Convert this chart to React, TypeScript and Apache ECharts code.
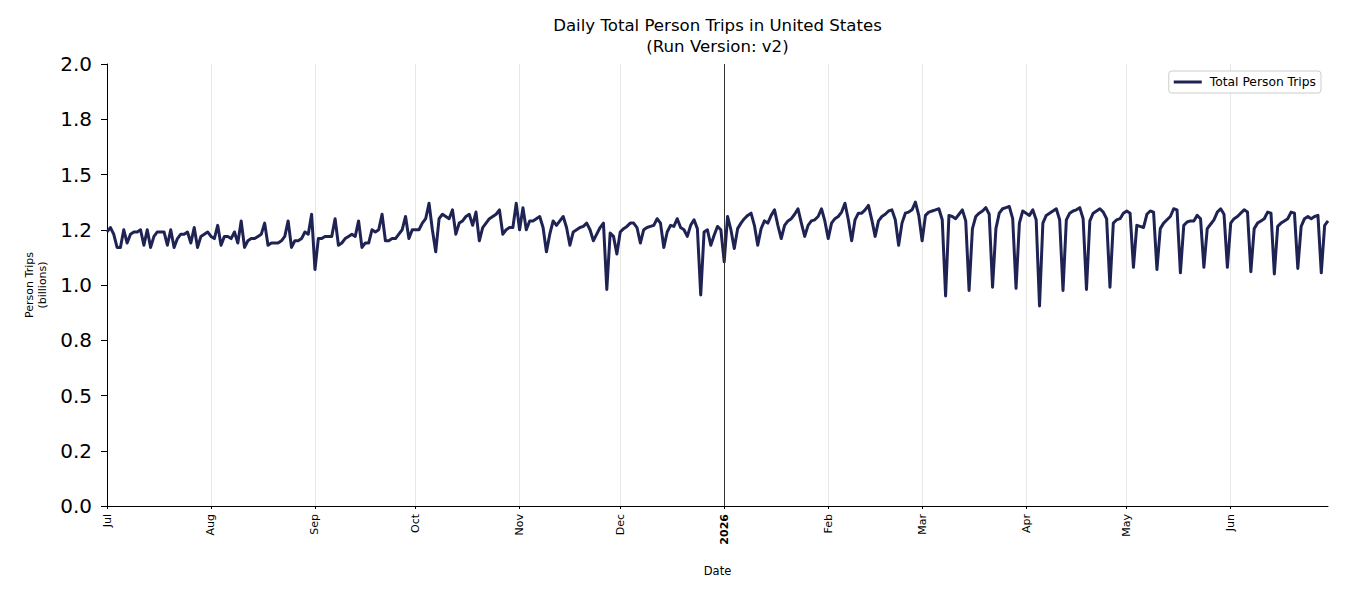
import React, { useEffect, useRef } from 'react';
import * as echarts from 'echarts';

// Daily total person trips (billions), 1 Jul 2025 – 30 Jun 2026
const jul2025 = [1.24, 1.26, 1.23, 1.17, 1.17, 1.25, 1.19, 1.23, 1.24, 1.24, 1.25, 1.18, 1.25, 1.17, 1.22, 1.24, 1.24, 1.24, 1.18, 1.25, 1.17, 1.21, 1.23, 1.23, 1.24, 1.19, 1.26, 1.17, 1.22, 1.23, 1.24];
const aug2025 = [1.22, 1.21, 1.27, 1.18, 1.22, 1.22, 1.21, 1.24, 1.19, 1.29, 1.17, 1.20, 1.21, 1.21, 1.22, 1.23, 1.28, 1.18, 1.19, 1.19, 1.19, 1.20, 1.22, 1.29, 1.17, 1.20, 1.20, 1.21, 1.24, 1.23, 1.32];
const sep2025 = [1.07, 1.21, 1.21, 1.22, 1.22, 1.22, 1.30, 1.18, 1.19, 1.21, 1.22, 1.23, 1.22, 1.29, 1.17, 1.19, 1.19, 1.25, 1.24, 1.25, 1.32, 1.20, 1.20, 1.21, 1.21, 1.23, 1.25, 1.31, 1.21, 1.25];
const oct2025 = [1.25, 1.25, 1.28, 1.30, 1.37, 1.25, 1.15, 1.30, 1.32, 1.31, 1.30, 1.34, 1.23, 1.28, 1.29, 1.31, 1.32, 1.27, 1.33, 1.20, 1.26, 1.28, 1.30, 1.31, 1.32, 1.34, 1.23, 1.25, 1.26, 1.26, 1.37];
const nov2025 = [1.25, 1.35, 1.25, 1.29, 1.29, 1.30, 1.31, 1.26, 1.15, 1.23, 1.29, 1.27, 1.29, 1.31, 1.26, 1.18, 1.24, 1.25, 1.26, 1.265, 1.28, 1.25, 1.20, 1.23, 1.26, 1.28, 0.98, 1.235, 1.22, 1.14];
const dec2025 = [1.24, 1.255, 1.265, 1.28, 1.28, 1.26, 1.19, 1.25, 1.26, 1.265, 1.27, 1.30, 1.28, 1.17, 1.24, 1.27, 1.265, 1.30, 1.26, 1.25, 1.22, 1.27, 1.295, 1.255, 0.955, 1.24, 1.25, 1.18, 1.225, 1.265, 1.25];
const jan2026 = [1.105, 1.31, 1.25, 1.165, 1.255, 1.28, 1.30, 1.315, 1.325, 1.27, 1.18, 1.255, 1.29, 1.28, 1.315, 1.34, 1.27, 1.21, 1.27, 1.29, 1.30, 1.32, 1.345, 1.28, 1.22, 1.27, 1.29, 1.295, 1.31, 1.345, 1.29];
const feb2026 = [1.21, 1.28, 1.30, 1.31, 1.33, 1.37, 1.295, 1.20, 1.295, 1.325, 1.325, 1.34, 1.36, 1.295, 1.22, 1.29, 1.31, 1.32, 1.335, 1.34, 1.295, 1.18, 1.28, 1.325, 1.33, 1.34, 1.375, 1.315];
const mar2026 = [1.20, 1.315, 1.33, 1.335, 1.34, 1.345, 1.295, 0.95, 1.315, 1.31, 1.30, 1.32, 1.34, 1.29, 0.975, 1.255, 1.31, 1.325, 1.335, 1.35, 1.32, 0.99, 1.255, 1.325, 1.345, 1.35, 1.355, 1.30, 0.985, 1.28, 1.335];
const apr2026 = [1.325, 1.315, 1.34, 1.295, 0.905, 1.28, 1.315, 1.325, 1.335, 1.345, 1.295, 0.975, 1.295, 1.325, 1.335, 1.34, 1.35, 1.30, 0.98, 1.29, 1.325, 1.335, 1.345, 1.33, 1.30, 0.99, 1.28, 1.295, 1.30, 1.325];
const may2026 = [1.335, 1.325, 1.08, 1.27, 1.265, 1.26, 1.32, 1.335, 1.33, 1.07, 1.255, 1.28, 1.295, 1.31, 1.345, 1.34, 1.055, 1.27, 1.285, 1.29, 1.29, 1.315, 1.30, 1.08, 1.255, 1.275, 1.295, 1.33, 1.345, 1.32, 1.08];
const jun2026 = [1.28, 1.30, 1.31, 1.325, 1.34, 1.33, 1.06, 1.255, 1.28, 1.29, 1.30, 1.33, 1.325, 1.05, 1.265, 1.28, 1.29, 1.30, 1.33, 1.325, 1.075, 1.265, 1.30, 1.31, 1.30, 1.31, 1.315, 1.055, 1.27, 1.29];

const tripValues = [
  ...jul2025, ...aug2025, ...sep2025, ...oct2025, ...nov2025, ...dec2025,
  ...jan2026, ...feb2026, ...mar2026, ...apr2026, ...may2026, ...jun2026,
];

const firstDay = Date.UTC(2025, 6, 1);
const dayMs = 86400000;
const pad = (n: number) => (n < 10 ? '0' + n : String(n));
const dates = tripValues.map((_, i) => {
  const d = new Date(firstDay + i * dayMs);
  return `${d.getUTCFullYear()}-${pad(d.getUTCMonth() + 1)}-${pad(d.getUTCDate())}`;
});

const monthNames = ['Jan', 'Feb', 'Mar', 'Apr', 'May', 'Jun', 'Jul', 'Aug', 'Sep', 'Oct', 'Nov', 'Dec'];
const yTickLabels = ['0.0', '0.2', '0.5', '0.8', '1.0', '1.2', '1.5', '1.8', '2.0'];
const yearStart = '2026-01-01';

const isMonthStart = (_: number, v: string) => v.endsWith('-01');

const FONT = '"DejaVu Sans", sans-serif';
const LINE_COLOR = '#1f2353';

export default function App() {
  const ref = useRef<HTMLDivElement>(null);

  useEffect(() => {
    if (!ref.current) return;
    const chart = echarts.init(ref.current, undefined, { renderer: 'svg' });
    chart.setOption({
      animation: false,
      backgroundColor: '#fff',
      textStyle: { fontFamily: FONT },
      title: {
        text: 'Daily Total Person Trips in United States\n(Run Version: v2)',
        left: 712.5,
        top: 10,
        textAlign: 'center',
        textStyle: { fontFamily: FONT, fontSize: 16.6, fontWeight: 'normal', color: '#000', lineHeight: 21 },
      },
      legend: {
        data: ['Total Person Trips'],
        right: 29,
        top: 71,
        icon: 'rect',
        itemWidth: 28,
        itemHeight: 3,
        itemGap: 6,
        padding: [5, 5, 5, 5],
        backgroundColor: '#fff',
        borderColor: '#cccccc',
        borderWidth: 1,
        borderRadius: 3,
        textStyle: { fontFamily: FONT, fontSize: 12.3, color: '#000', padding: [0, 0, 0, 3] },
      },
      grid: { left: 107, right: 22, top: 64, bottom: 94, containLabel: false },
      xAxis: {
        type: 'category',
        data: dates,
        boundaryGap: false,
        name: 'Date',
        nameLocation: 'middle',
        nameGap: 59,
        nameTextStyle: { fontFamily: FONT, fontSize: 11.5, color: '#000' },
        axisLine: { lineStyle: { color: '#000', width: 1 } },
        axisTick: { show: true, interval: isMonthStart, length: 3, lineStyle: { color: '#000' } },
        axisLabel: {
          interval: isMonthStart,
          rotate: 90,
          margin: 8,
          fontFamily: FONT,
          fontSize: 11,
          color: '#000',
          formatter: (v: string) => {
            const [y, m] = v.split('-');
            return m === '01' ? `{yr|${y}}` : monthNames[Number(m) - 1];
          },
          rich: { yr: { fontFamily: FONT, fontSize: 11, fontWeight: 'bold', color: '#000' } },
        },
        splitLine: { show: true, interval: isMonthStart, lineStyle: { color: '#e6e6e6', width: 1 } },
      },
      yAxis: {
        type: 'value',
        min: 0,
        max: 2,
        interval: 0.25,
        name: 'Person Trips\n(billions)',
        nameLocation: 'middle',
        nameRotate: 90,
        nameGap: 57,
        nameTextStyle: { fontFamily: FONT, fontSize: 11, color: '#000', lineHeight: 13 },
        axisLine: { show: true, lineStyle: { color: '#000', width: 1 } },
        axisTick: { show: true, length: 6, lineStyle: { color: '#000' } },
        axisLabel: {
          margin: 15,
          fontFamily: FONT,
          fontSize: 20,
          color: '#000',
          formatter: (v: number) => yTickLabels[Math.round(v / 0.25)],
        },
        splitLine: { show: false },
      },
      series: [
        {
          name: 'Total Person Trips',
          type: 'line',
          data: tripValues,
          showSymbol: false,
          symbol: 'none',
          lineStyle: { color: LINE_COLOR, width: 3, join: 'round' },
          itemStyle: { color: LINE_COLOR },
          markLine: {
            silent: true,
            symbol: ['none', 'none'],
            label: { show: false },
            lineStyle: { color: '#333', width: 1, type: 'solid' },
            data: [{ xAxis: yearStart }],
          },
        },
      ],
    });
    return () => chart.dispose();
  }, []);

  return (
    <div
      ref={ref}
      style={{ position: 'absolute', left: 0, top: 0, width: 1350, height: 600, background: '#fff' }}
    />
  );
}
